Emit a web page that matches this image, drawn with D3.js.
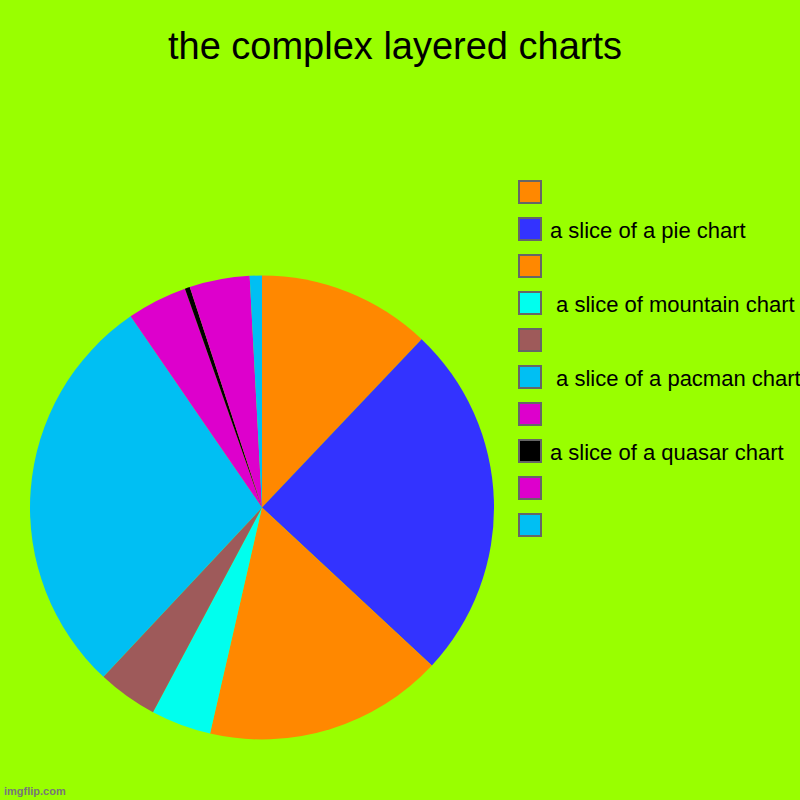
<!DOCTYPE html>
<html><head><meta charset="utf-8">
<script src="https://cdn.jsdelivr.net/npm/d3@7"></script>
<style>html,body{margin:0;padding:0;background:#99ff00;}</style>
</head><body>
<svg id="chart" width="800" height="800"></svg>
<script>
const labels = ["", "a slice of a pie chart", "", " a slice of mountain chart", "", " a slice of a pacman chart", "", "a slice of a quasar chart", "", ""];
const values = [12.1, 24.9, 16.7, 4.2, 4.2, 28.5, 4.2, 0.35, 4.2, 0.85];
const colors = ["#ff8800", "#3333ff", "#ff8800", "#00ffee", "#9e5a5a", "#00bff3", "#dd00cc", "#000000", "#dd00cc", "#00bff3"];
const title = "the complex layered charts";

const svg = d3.select("#chart");
svg.append("rect").attr("width", 800).attr("height", 800).attr("fill", "#99ff00");

svg.append("text").attr("x", 395).attr("y", 59).attr("text-anchor", "middle")
  .attr("font-family", "Liberation Sans, Arial, sans-serif").attr("font-size", 38)
  .attr("fill", "#000").text(title);

const idx = d3.range(values.length);
const pie = d3.pie().sort(null).value(i => values[i]);
const arc = d3.arc().innerRadius(0).outerRadius(232);
const g = svg.append("g").attr("transform", "translate(262,507.5)");
g.selectAll("path").data(pie(idx)).join("path")
  .attr("d", arc).attr("fill", d => colors[d.data]);

const legendY = d3.scaleLinear().domain([0, 1]).range([181, 218]);
const lg = svg.append("g");
const items = lg.selectAll("g").data(idx).join("g")
  .attr("transform", i => `translate(519,${legendY(i)})`);
items.append("rect").attr("width", 22).attr("height", 22)
  .attr("fill", i => colors[i]).attr("stroke", "#666").attr("stroke-width", 2);
items.append("text").attr("x", 31).attr("y", 19.5)
  .attr("font-family", "Liberation Sans, Arial, sans-serif").attr("font-size", 22)
  .attr("fill", "#000").attr("xml:space", "preserve").style("white-space", "pre")
  .text(i => labels[i]);

svg.append("text").attr("x", 4).attr("y", 795)
  .attr("font-family", "Liberation Sans, Arial, sans-serif").attr("font-size", 11).attr("font-weight", "bold")
  .attr("fill", "#777").text("imgflip.com");
</script>
</body></html>
